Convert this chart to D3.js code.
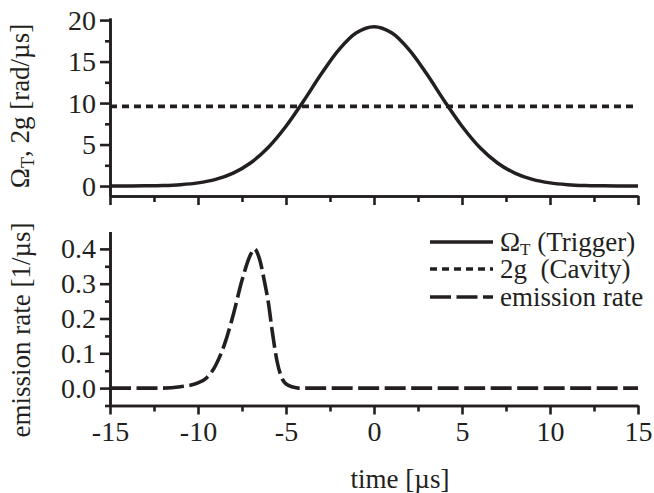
<!DOCTYPE html>
<html><head><meta charset="utf-8">
<script src="https://cdn.jsdelivr.net/npm/d3@7"></script>
<style>body{margin:0;background:#fff}</style>
</head><body><svg id="c" width="654" height="493"></svg>
<script>
// ---- data ----
const timeMajor = [-15,-10,-5,0,5,10,15];
const timeMinor = [-12.5,-7.5,-2.5,2.5,7.5,12.5];
const topMajor = [0,5,10,15,20];
const topMinor = [2.5,7.5,12.5,17.5];
const botMajor = [0.0,0.1,0.2,0.3,0.4];
const botMinor = [-0.05,0.05,0.15,0.25,0.35];

const omegaTime = [-15,-14,-13,-12,-11,-10,-9,-8,-7,-6,-5,-4,-3,-2,-1,0,1,2,3,4,5,6,7,8,9,10,11,12,13,14,15];
const omegaVal  = [0.01,0.01,0.03,0.07,0.17,0.38,0.80,1.56,2.81,4.68,7.21,10.25,13.49,16.41,18.46,19.2,18.46,16.41,13.49,10.25,7.21,4.68,2.81,1.56,0.80,0.38,0.17,0.07,0.03,0.01,0.01];
const cavityTime = [-15,15];
const cavityVal  = [9.6,9.6];
const emTime = [-15,-12,-11,-10,-9.5,-9,-8.5,-8,-7.5,-7,-6.8,-6.5,-6.2,-6,-5.8,-5.5,-5.2,-5,-4.6,-4.3,0,15];
const emVal  = [0,0,0.004,0.015,0.03,0.065,0.125,0.21,0.31,0.385,0.40,0.37,0.30,0.245,0.17,0.075,0.025,0.012,0.003,0,0,0];

const legendLabels = ["Trigger","Cavity","emission rate"];

// ---- drawing ----
const ink = "#231f20";
const font = "Liberation Serif";
const svg = d3.select("#c");

const x = d3.scaleLinear().domain([-15,15]).range([110,638]);
const yTop = d3.scaleLinear().domain([-1.2,20.25]).range([196,18]);
const yBot = d3.scaleLinear().domain([-0.05,0.45]).range([405.5,231.5]);

function styleAxis(g){
  g.attr("font-family",font).attr("font-size",28);
  g.select(".domain").attr("stroke",ink).attr("stroke-width",2.6);
  g.selectAll(".tick line").attr("stroke",ink).attr("stroke-width",2.6);
  g.selectAll(".tick text").attr("fill",ink);
}

// top panel x axis (no labels)
svg.append("g").attr("transform",`translate(0,${yTop.range()[0]})`)
  .call(d3.axisBottom(x).tickValues(timeMajor).tickSize(9).tickSizeOuter(0).tickFormat(""))
  .call(styleAxis);
svg.append("g").attr("transform",`translate(0,${yTop.range()[0]})`)
  .call(d3.axisBottom(x).tickValues(timeMinor).tickSize(6).tickSizeOuter(0).tickFormat(""))
  .call(styleAxis);
// top y
svg.append("g").attr("transform",`translate(${x.range()[0]},0)`)
  .call(d3.axisLeft(yTop).tickValues(topMajor).tickSize(10).tickPadding(4).tickSizeOuter(0).tickFormat(d=>String(d)))
  .call(styleAxis);
svg.append("g").attr("transform",`translate(${x.range()[0]},0)`)
  .call(d3.axisLeft(yTop).tickValues(topMinor).tickSize(5).tickSizeOuter(0).tickFormat(""))
  .call(styleAxis);

// bottom x
svg.append("g").attr("transform",`translate(0,${yBot.range()[0]})`)
  .call(d3.axisBottom(x).tickValues(timeMajor).tickSize(9).tickPadding(7).tickSizeOuter(0).tickFormat(d=>String(d)))
  .call(styleAxis);
svg.append("g").attr("transform",`translate(0,${yBot.range()[0]})`)
  .call(d3.axisBottom(x).tickValues(timeMinor).tickSize(6).tickSizeOuter(0).tickFormat(""))
  .call(styleAxis);
// bottom y
svg.append("g").attr("transform",`translate(${x.range()[0]},0)`)
  .call(d3.axisLeft(yBot).tickValues(botMajor).tickSize(10).tickPadding(4).tickSizeOuter(0).tickFormat(d3.format(".1f")))
  .call(styleAxis);
svg.append("g").attr("transform",`translate(${x.range()[0]},0)`)
  .call(d3.axisLeft(yBot).tickValues(botMinor).tickSize(5).tickSizeOuter(0).tickFormat(""))
  .call(styleAxis);

// curves
const lineTop = d3.line().x(d=>x(d[0])).y(d=>yTop(d[1])).curve(d3.curveCatmullRom);
const lineBot = d3.line().x(d=>x(d[0])).y(d=>yBot(d[1])).curve(d3.curveMonotoneX);

svg.append("path").datum(d3.zip(omegaTime,omegaVal)).attr("d",lineTop)
  .attr("fill","none").attr("stroke",ink).attr("stroke-width",3.5);
svg.append("path").datum(d3.zip(cavityTime,cavityVal)).attr("d",lineTop)
  .attr("fill","none").attr("stroke",ink).attr("stroke-width",3.6).attr("stroke-dasharray","7,5");
svg.append("path").datum(d3.zip(emTime,emVal)).attr("d",lineBot)
  .attr("fill","none").attr("stroke",ink).attr("stroke-width",3.6).attr("stroke-dasharray","21,5.5");

// axis titles
const t1 = svg.append("text").attr("transform","translate(29,106) rotate(-90)")
  .attr("text-anchor","middle").attr("fill",ink).attr("font-family",font).attr("font-size",27);
t1.append("tspan").text("Ω");
t1.append("tspan").text("T").attr("font-size",18).attr("dy",5);
t1.append("tspan").text(", 2g [rad/µs]").attr("dy",-5);

svg.append("text").attr("transform","translate(30,330) rotate(-90)")
  .attr("text-anchor","middle").attr("fill",ink).attr("font-family",font).attr("font-size",27)
  .text("emission rate [1/µs]");

svg.append("text").attr("x",400).attr("y",488).attr("text-anchor","middle").attr("fill",ink)
  .attr("font-family",font).attr("font-size",27).text("time [µs]");

// legend
const legY = [242,269,297];
const dashes = [null,"7,5","21,5.5"];
legY.forEach((ly,i)=>{
  svg.append("line").attr("x1",430).attr("x2",493).attr("y1",ly).attr("y2",ly)
    .attr("stroke",ink).attr("stroke-width",3.6).attr("stroke-dasharray",dashes[i]);
});
const lt = (i)=>svg.append("text").attr("x",500).attr("y",legY[i]+9).attr("fill",ink)
  .attr("font-family",font).attr("font-size",27).style("white-space","pre");
const l0 = lt(0);
l0.append("tspan").text("Ω");
l0.append("tspan").text("T").attr("font-size",17).attr("dy",4);
l0.append("tspan").text(" (" + legendLabels[0] + ")").attr("dy",-4);
lt(1).text("2g  (" + legendLabels[1] + ")");
lt(2).text(legendLabels[2]);
</script></body></html>
